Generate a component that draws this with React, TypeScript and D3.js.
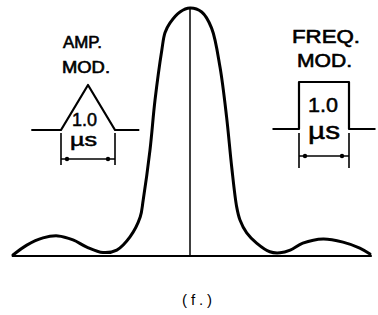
import * as React from 'react';
import * as d3 from 'd3';

// spectrum: frequency offset (arbitrary units) vs. relative amplitude
const freqOffset = [
  -2.95, -2.72, -2.45, -2.2, -1.95, -1.72, -1.45, -1.22, -1.0, -0.83, -0.78,
  -0.667, -0.583, -0.47, -0.417, -0.333, -0.167, 0,
  0.195, 0.36, 0.5, 0.61, 0.695, 0.778, 0.833, 0.945, 1.11, 1.33, 1.5, 1.67,
  1.88, 2.22, 2.55, 2.83, 3.0,
];
const amplitude = [
  0.004, 0.044, 0.073, 0.081, 0.065, 0.036, 0.014, 0.024, 0.077, 0.157, 0.226,
  0.427, 0.629, 0.83, 0.9, 0.94, 0.984, 1.0,
  0.984, 0.919, 0.762, 0.56, 0.359, 0.198, 0.145, 0.093, 0.052, 0.017, 0.013, 0.024,
  0.052, 0.069, 0.056, 0.032, 0.008,
];
const baselineExtent = [-2.97, 3.03];

// inset pulses (time in microseconds, normalised level)
const ampPulseTime = [-0.55, 0, 0.5, 1.0, 1.45];
const ampPulseLevel = [0, 0, 1, 0, 0];
const fmPulseTime = [-0.53, 0, 0, 1, 1, 1.53];
const fmPulseLevel = [0, 0, 1, 1, 0, 0];
const pulseWidth = [0, 1];

const ampLabel = ['AMP.', 'MOD.'];
const fmLabel = ['FREQ.', 'MOD.'];
const widthLabel = ['1.0', 'µs'];
const caption = '(f.)';

const W = 378;
const H = 315;
const FONT = '"Liberation Sans", Arial, sans-serif';

const x = d3.scaleLinear().domain([-3, 3]).range([10, 370]);
const y = d3.scaleLinear().domain([0, 1]).range([256, 8]);

const spectrumLine = d3.line<number>()
  .x((_, i) => x(freqOffset[i]))
  .y(d => y(d))
  .curve(d3.curveCatmullRom.alpha(0.5));

interface InsetProps {
  time: number[],
  level: number[],
  xRange: [number, number],
  yRange: [number, number],
  dimY: [number, number, number],
  title: string[],
  titlePos: {x: number, y: number, len: number, size: number}[],
  textPos: {x: number, y: number, len: number, size: number}[],
}

const Inset = (props: InsetProps) => {
  const {time, level, xRange, yRange, dimY, title, titlePos, textPos} = props;
  const tx = d3.scaleLinear().domain(pulseWidth).range(xRange);
  const ty = d3.scaleLinear().domain([0, 1]).range(yRange);
  const pulse = d3.line<number>()
    .x((_, i) => tx(time[i]))
    .y(d => ty(d));
  const [top, bottom, arrowY] = dimY;

  return (
    <g>
      <path d={pulse(level) || ''} fill="none" stroke="#000" strokeWidth={2.2} strokeLinejoin="round"/>
      {pulseWidth.map(t => (
        <line key={t} x1={tx(t)} x2={tx(t)} y1={top} y2={bottom} stroke="#000" strokeWidth={1.6}/>
      ))}
      <line x1={tx(0)} x2={tx(1)} y1={arrowY} y2={arrowY} stroke="#000" strokeWidth={1.6}/>
      <circle cx={tx(0) + 6} cy={arrowY} r={2.2} fill="#000"/>
      <circle cx={tx(1) - 7} cy={arrowY} r={2.2} fill="#000"/>
      {title.map((s, i) => (
        <text key={s + i} x={titlePos[i].x} y={titlePos[i].y} fontSize={titlePos[i].size}
          textLength={titlePos[i].len} lengthAdjust="spacingAndGlyphs"
          stroke="#000" strokeWidth={0.6}>{s}</text>
      ))}
      {widthLabel.map((s, i) => (
        <text key={s} x={textPos[i].x} y={textPos[i].y} fontSize={textPos[i].size}
          textLength={textPos[i].len} lengthAdjust="spacingAndGlyphs"
          stroke="#000" strokeWidth={0.5}>{s}</text>
      ))}
    </g>
  );
};

export default function App() {
  return (
    <svg width={W} height={H} viewBox={`0 0 ${W} ${H}`}
      style={{position: 'absolute', left: 0, top: 0, background: '#fff'}}
      fontFamily={FONT}>
      <rect width={W} height={H} fill="#fff"/>
      {/* baseline */}
      <line x1={x(baselineExtent[0])} x2={x(baselineExtent[1])} y1={y(0)} y2={y(0)}
        stroke="#000" strokeWidth={2}/>
      {/* centre frequency */}
      <line x1={x(0)} x2={x(0)} y1={y(0)} y2={y(1)} stroke="#000" strokeWidth={1.5}/>
      <path d={spectrumLine(amplitude) || ''} fill="none" stroke="#000" strokeWidth={3}
        strokeLinejoin="round" strokeLinecap="round"/>

      <Inset time={ampPulseTime} level={ampPulseLevel}
        xRange={[61, 115]} yRange={[130, 85]} dimY={[133, 165, 159]}
        title={ampLabel}
        titlePos={[{x: 63, y: 48, len: 39, size: 16}, {x: 62, y: 73, len: 48, size: 16}]}
        textPos={[{x: 72, y: 126, len: 25, size: 18}, {x: 70, y: 146, len: 27, size: 18}]}/>
      <Inset time={fmPulseTime} level={fmPulseLevel}
        xRange={[299, 349]} yRange={[129, 82]} dimY={[133, 168, 156]}
        title={fmLabel}
        titlePos={[{x: 292, y: 43, len: 68, size: 18}, {x: 297, y: 67, len: 55, size: 18}]}
        textPos={[{x: 308, y: 112, len: 30, size: 21}, {x: 308, y: 139, len: 32, size: 24}]}/>

      <text x={182} y={305} fontSize={15} textLength={30} lengthAdjust="spacing">{caption}</text>
    </svg>
  );
}
